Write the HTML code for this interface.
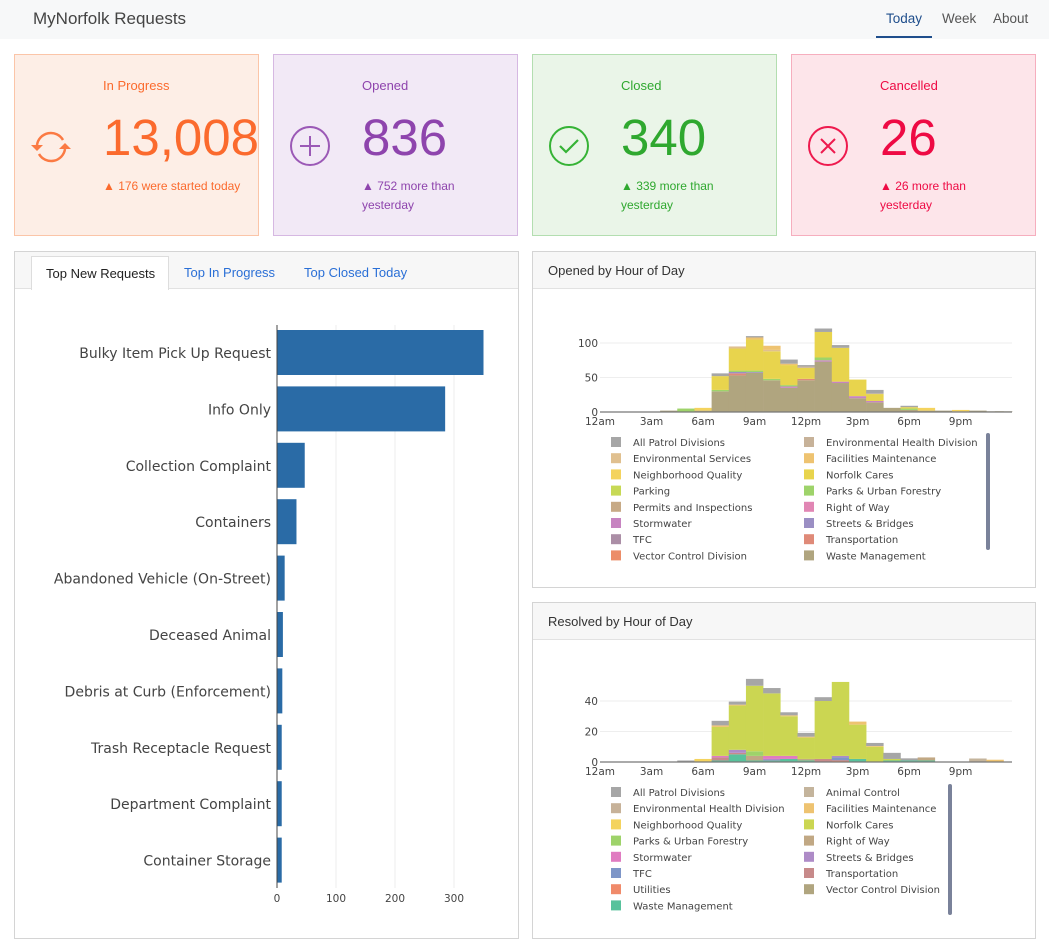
<!DOCTYPE html>
<html><head><meta charset="utf-8">
<style>
*{box-sizing:border-box;margin:0;padding:0}
body{width:1049px;height:952px;background:#fff;font-family:"Liberation Sans",sans-serif;position:relative;overflow:hidden}
.nav{position:absolute;left:0;top:0;width:1049px;height:39px;background:#f7f8f9}
.nav .t{position:absolute;left:33px;top:9px;font-size:17px;color:#444}
.nav a{position:absolute;top:11px;font-size:13.5px;color:#555}
.card{position:absolute;top:54px;width:245px;height:182px;border:1px solid}
.card .lab{position:absolute;left:88px;top:23px;font-size:13px}
.card .num{position:absolute;left:88px;top:52px;font-size:51px;line-height:62px}
.card .sub{position:absolute;left:88px;top:122px;font-size:12px;line-height:19px;width:118px}
.card svg{position:absolute;left:14px;top:70px}
.panel{position:absolute;border:1px solid #d4d4d4;background:#fff}
.ph{position:absolute;left:0;top:0;right:0;height:37px;background:#f7f7f7;border-bottom:1px solid #e2e2e2;font-size:13px;color:#333;padding:11px 15px}
svg text{font-family:"DejaVu Sans",sans-serif}
</style></head><body>
<div class="nav"><span class="t">MyNorfolk Requests</span>
<a style="left:886px;color:#1f4e8c">Today</a><div style="position:absolute;left:876px;top:36px;width:56px;height:2px;background:#1f4e8c"></div>
<a style="left:942px">Week</a><a style="left:993px">About</a></div>

<div class="card" style="left:14px;background:#fdeee6;border-color:#fbc5a8;color:#fb6a2d">
<svg width="44" height="44" viewBox="0 0 44 44"><path d="M8 20 A14 14 0 0 1 34 15" fill="none" stroke="#fb7a43" stroke-width="2.5"/><path d="M36 24 A14 14 0 0 1 10 29" fill="none" stroke="#fb7a43" stroke-width="2.5"/><polygon points="2,20 14,20 8,26" fill="#fb7a43"/><polygon points="30,24 42,24 36,18" fill="#fb7a43"/></svg>
<div class="lab">In Progress</div><div class="num">13,008</div><div class="sub" style="width:160px">▲ 176 were started today</div></div>
<div class="card" style="left:273px;background:#f2e9f6;border-color:#d6b8e2;color:#8e44ad">
<svg width="44" height="44"><circle cx="22" cy="21" r="19" fill="none" stroke="#9b59b6" stroke-width="2"/><path d="M22 11v20M12 21h20" stroke="#9b59b6" stroke-width="2"/></svg>
<div class="lab">Opened</div><div class="num">836</div><div class="sub">▲ 752 more than yesterday</div></div>
<div class="card" style="left:532px;background:#eaf5e8;border-color:#b3deb0;color:#2fa82f">
<svg width="44" height="44"><circle cx="22" cy="21" r="19" fill="none" stroke="#36b336" stroke-width="2"/><path d="M13 21l6 6 12-12" fill="none" stroke="#36b336" stroke-width="2.2"/></svg>
<div class="lab">Closed</div><div class="num">340</div><div class="sub">▲ 339 more than yesterday</div></div>
<div class="card" style="left:791px;background:#fde5ea;border-color:#f6aebe;color:#ee0a44">
<svg width="44" height="44"><circle cx="22" cy="21" r="19" fill="none" stroke="#ee1a4e" stroke-width="2"/><path d="M15 14l14 14M29 14l-14 14" stroke="#ee1a4e" stroke-width="2"/></svg>
<div class="lab">Cancelled</div><div class="num">26</div><div class="sub">▲ 26 more than yesterday</div></div>

<div class="panel" style="left:14px;top:251px;width:505px;height:688px">
<div class="ph" style="padding:0"></div>
<div style="position:absolute;left:16px;top:4px;width:138px;height:34px;background:#fff;border:1px solid #ddd;border-bottom:none;font-size:13px;color:#222;padding:9px 0 0 14px">Top New Requests</div>
<div style="position:absolute;left:169px;top:13px;font-size:13px;color:#2a6fd6">Top In Progress</div>
<div style="position:absolute;left:289px;top:13px;font-size:13px;color:#2a6fd6">Top Closed Today</div>
</div>
<svg style="position:absolute;left:0;top:0" width="1049" height="952" id="s">
</svg>

<div class="panel" style="left:532px;top:251px;width:504px;height:337px"><div class="ph">Opened by Hour of Day</div></div>
<div class="panel" style="left:532px;top:602px;width:504px;height:337px"><div class="ph">Resolved by Hour of Day</div></div>
<svg style="position:absolute;left:0;top:0" width="1049" height="952" id="c"></svg>

<script>
var ns="http://www.w3.org/2000/svg";
function el(svg,t,a,txt){var e=document.createElementNS(ns,t);for(var k in a)e.setAttribute(k,a[k]);if(txt!=null)e.textContent=txt;svg.appendChild(e);return e;}
var s=document.getElementById('s');
[336,395,454].forEach(function(x){el(s,'line',{x1:x,x2:x,y1:325,y2:888,stroke:'#eee'});});
var names=["Bulky Item Pick Up Request","Info Only","Collection Complaint","Containers","Abandoned Vehicle (On-Street)","Deceased Animal","Debris at Curb (Enforcement)","Trash Receptacle Request","Department Complaint","Container Storage"];
var vals=[350,285,47,33,13,10,9,8,8,8];
for(var i=0;i<10;i++){var y=330+i*56.4;el(s,'rect',{x:277,y:y,width:vals[i]*0.59,height:45,fill:'#2a6ba6'});
el(s,'text',{x:271,y:y+28,'text-anchor':'end','font-size':14,fill:'#444'},names[i]);}
el(s,'line',{x1:277,x2:277,y1:325,y2:888,stroke:'#444'});
[0,100,200,300].forEach(function(v){el(s,'text',{x:277+v*0.59,y:902,'text-anchor':'middle','font-size':10.5,fill:'#444'},v);});

var c=document.getElementById('c');
var C={ap:'#a6a6a6',eh:'#c7b299',es:'#e0c08f',fm:'#eec371',nq:'#f4d35e',nc:'#e8d44d',pk:'#c7d955',pu:'#9ed36a',pi:'#c7aa86',rw:'#e186b4',sw:'#c784c1',sb:'#9b8fc4',tf:'#ab8ea6',tr:'#df8a78',vc:'#ec8d68',wm:'#b0a57f',
ac:'#c4b49c',ncl:'#cbd652',rw2:'#c1a884',sb2:'#ae8bc7',tf2:'#7e96c8',tr2:'#c78a8a',ut:'#f08a6a',vc2:'#b0a57f',wm2:'#58c29c',sw2:'#e07cc1'};
function chart(y0,k,ticks,bars,legend,sb){
 ticks.forEach(function(v){var y=y0-v*k;if(v>0)el(c,'line',{x1:600,x2:1012,y1:y,y2:y,stroke:'#eee'});el(c,'text',{x:598,y:y+4,'text-anchor':'end','font-size':10.5,fill:'#444'},v);});
 var h=17.17;
 bars.forEach(function(b){var x=600+b[0]*h,cum=0;for(var j=1;j<b.length;j+=2){var v=b[j+1];el(c,'rect',{x:x,y:y0-(cum+v)*k,width:h+0.3,height:v*k,fill:C[b[j]]});cum+=v;}});
 el(c,'line',{x1:600,x2:1012,y1:y0,y2:y0,stroke:'#777','stroke-width':1.3});
 ['12am','3am','6am','9am','12pm','3pm','6pm','9pm'].forEach(function(t,i){el(c,'text',{x:600+i*3*h,y:y0+13,'text-anchor':'middle','font-size':10.5,fill:'#444'},t);});
 var ly=y0+34;
 legend.forEach(function(it,i){var col=i%2,row=Math.floor(i/2);var x=col?804:611,y=ly+row*16.2;
  el(c,'rect',{x:x,y:y-9,width:10,height:10,fill:C[it[0]]});el(c,'text',{x:x+22,y:y,'font-size':10,fill:'#444'},it[1]);});
 el(c,'rect',{x:sb[0],y:sb[1],width:4,height:sb[2],rx:2,fill:'#7a829a'});
}
chart(412,0.69,[0,50,100],[
[3.5,'wm',2],[4.5,'pu',5],[5.5,'wm',2,'nq',4],
[6.5,'wm',30,'pu',2,'nc',20,'ap',4],
[7.5,'wm',53,'tr',3,'sb',2,'pu',2,'nc',32,'es',3],
[8.5,'wm',57,'sb',1,'pu',2,'nc',45,'fm',3,'ap',2],
[9.5,'wm',46,'pu',2,'nc',40,'es',2,'fm',6],
[10.5,'wm',35,'sw',2,'pu',2,'nc',29,'fm',2,'ap',6],
[11.5,'wm',46,'tr',2,'nc',16,'eh',2,'ap',2],
[12.5,'wm',73,'sw',2,'pu',4,'nc',37,'ap',5],
[13.5,'wm',42,'sw',2,'nc',49,'ap',4],
[14.5,'wm',20,'sw',3,'nc',24],
[15.5,'wm',14,'sw',2,'nc',10,'eh',1,'ap',5],
[16.5,'wm',6],[17.5,'wm',3,'pu',2,'nc',2,'ap',2],[18.5,'wm',2,'nq',4],
[19.5,'wm',2],[20.5,'wm',1,'nq',2],[21.5,'wm',2],[22.5,'wm',1],[23,'wm',1]],
[['ap','All Patrol Divisions'],['eh','Environmental Health Division'],['es','Environmental Services'],['fm','Facilities Maintenance'],['nq','Neighborhood Quality'],['nc','Norfolk Cares'],['pk','Parking'],['pu','Parks & Urban Forestry'],['pi','Permits and Inspections'],['rw','Right of Way'],['sw','Stormwater'],['sb','Streets & Bridges'],['tf','TFC'],['tr','Transportation'],['vc','Vector Control Division'],['wm','Waste Management']],
[986,433,117]);
chart(762,1.525,[0,20,40],[
[4.5,'ap',1],[5.5,'nq',2],
[6.5,'wm2',1,'tr2',2,'sw2',1,'ncl',19,'fm',1,'ap',3],
[7.5,'wm2',5,'tr2',1,'sb2',2,'ncl',29,'fm',0.6,'ap',2],
[8.5,'wm2',1,'rw2',3,'pu',3,'ncl',43,'ap',4.5],
[9.5,'wm2',1,'sb2',1,'sw2',2,'ncl',41,'ap',3.5],
[10.5,'wm2',2,'sw2',2,'ncl',26,'fm',0.6,'ap',2],
[11.5,'wm2',1,'rw2',1,'ncl',14,'fm',0.6,'ap',2.5],
[12.5,'tr2',2,'ncl',38,'ap',2.5],
[13.5,'ut',1,'tf2',2,'sb2',1,'ncl',48.5],
[14.5,'wm2',2,'ncl',22.5,'fm',2],
[15.5,'ncl',10,'fm',0.5,'ap',2],
[16.5,'wm2',1,'ncl',1,'ap',4],[17.5,'wm2',1,'ap',1.4],[18.5,'wm2',1,'rw2',2],
[21.5,'ac',2.3],[22.5,'fm',1.5]],
[['ap','All Patrol Divisions'],['ac','Animal Control'],['eh','Environmental Health Division'],['fm','Facilities Maintenance'],['nq','Neighborhood Quality'],['ncl','Norfolk Cares'],['pu','Parks & Urban Forestry'],['rw2','Right of Way'],['sw2','Stormwater'],['sb2','Streets & Bridges'],['tf2','TFC'],['tr2','Transportation'],['ut','Utilities'],['vc2','Vector Control Division'],['wm2','Waste Management']],
[948,784,131]);
</script>
</body></html>
